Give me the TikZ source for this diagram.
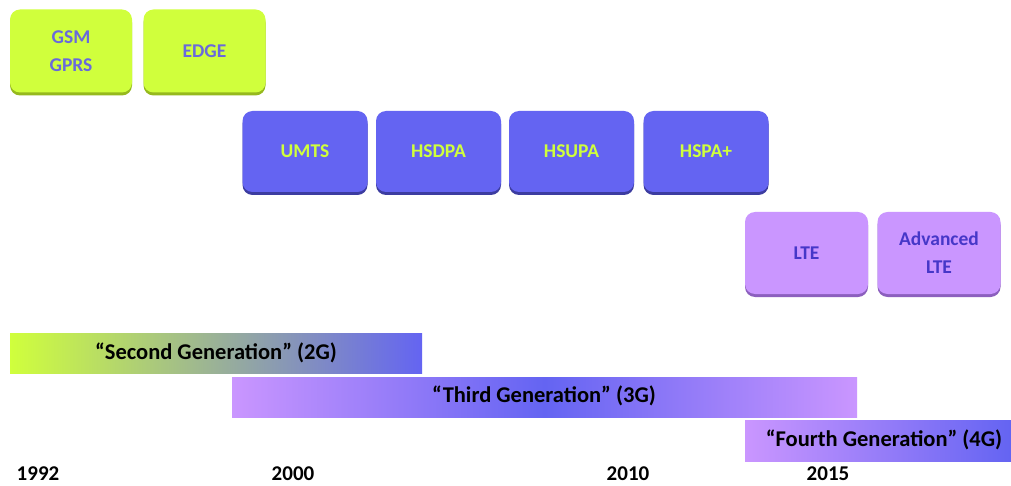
\documentclass[tikz,border=0pt]{standalone}
\usepackage{fontspec}
\setmainfont{Carlito}
\usetikzlibrary{shadows}
\definecolor{lime}{RGB}{208,255,60}
\definecolor{limeshadow}{RGB}{150,185,30}
\definecolor{tblue}{RGB}{100,100,242}
\definecolor{tblueshadow}{RGB}{60,60,160}
\definecolor{lav}{RGB}{202,150,255}
\definecolor{lavshadow}{RGB}{140,95,190}
\definecolor{lavtext}{RGB}{70,55,200}
\definecolor{gsmtext}{RGB}{105,105,220}
\begin{document}
\begin{tikzpicture}[x=1pt,y=-1pt,
  techbox/.style={rectangle, rounded corners=10pt, align=center,
    font=\bfseries\fontsize{19.5}{28}\selectfont, inner sep=0pt},
  twog/.style={techbox, fill=lime, text=gsmtext, minimum width=122pt, minimum height=83pt,
    drop shadow={shadow xshift=0pt, shadow yshift=-3pt, fill=limeshadow, opacity=1}},
  threeg/.style={techbox, fill=tblue, text=lime, minimum width=125pt, minimum height=81pt,
    drop shadow={shadow xshift=0pt, shadow yshift=-3pt, fill=tblueshadow, opacity=1}},
  fourg/.style={techbox, fill=lav, text=lavtext, minimum width=123pt, minimum height=82pt,
    drop shadow={shadow xshift=0pt, shadow yshift=-3pt, fill=lavshadow, opacity=1}},
  genbar/.style={rectangle, inner sep=0pt, font=\bfseries\fontsize{22.5}{27}\selectfont, text=black},
  year/.style={font=\bfseries\fontsize{21}{25}\selectfont, text=black, inner sep=1pt}
]
\useasboundingbox (0,0) rectangle (1011,486);
\fill[white] (0,0) rectangle (1011,486);

% second generation technologies
\node[twog] (gsm)  at (71,51)    {GSM\\GPRS};
\node[twog] (edge) at (204.5,51) {EDGE};

% third generation technologies
\node[threeg] (umts)  at (305,151.5)   {UMTS};
\node[threeg] (hsdpa) at (438.5,151.5) {HSDPA};
\node[threeg] (hsupa) at (571.5,151.5) {HSUPA};
\node[threeg] (hspap) at (706,151.5)   {HSPA+};

% fourth generation technologies
\node[fourg] (lte)  at (806.5,253) {LTE};
\node[fourg] (alte) at (939,253)   {Advanced\\LTE};

% generation bars
\shade[left color=lime, right color=tblue] (10,333) rectangle (422,373);
\node[genbar] (g2) at (216,353) {“Second Generation” (2G)};

\shade[left color=lav, right color=lav, middle color=tblue] (232,377) rectangle (857,417);
\node[genbar] (g3) at (544,396) {“Third Generation” (3G)};

\shade[left color=lav, right color=tblue] (745,420) rectangle (1011,461);
\node[genbar] (g4) at (884,440) {“Fourth Generation” (4G)};

% years
\node[year] (y1992) at (38,474)  {1992};
\node[year] (y2000) at (293,474) {2000};
\node[year] (y2010) at (628,474) {2010};
\node[year] (y2015) at (828,474) {2015};
\end{tikzpicture}
\end{document}
